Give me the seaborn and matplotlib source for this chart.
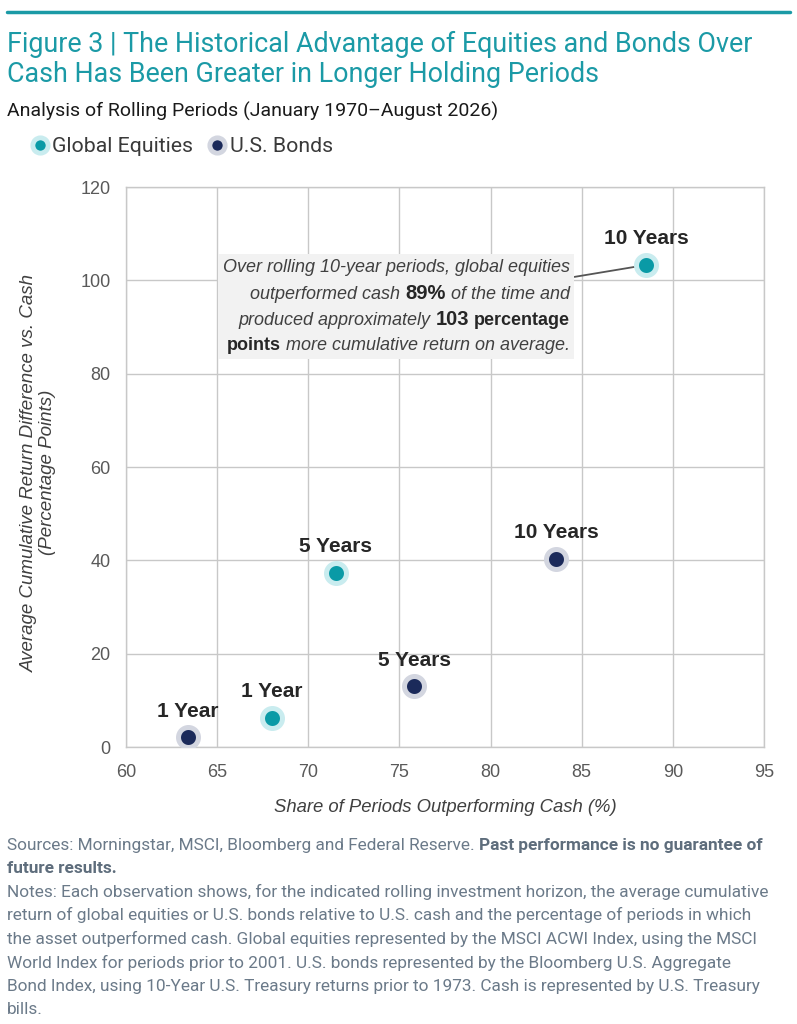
import matplotlib
matplotlib.use("Agg")
import matplotlib.pyplot as plt
import seaborn as sns
import pandas as pd
from matplotlib import font_manager
from matplotlib.lines import Line2D
from matplotlib.offsetbox import TextArea, HPacker, VPacker, AnnotationBbox, AnchoredOffsetbox

# ---- data ----
equity_horizons = ["1 Year", "5 Years", "10 Years"]
equity_share = [68.0, 71.5, 88.55]
equity_return = [6.3, 37.3, 103.3]

bond_horizons = ["1 Year", "5 Years", "10 Years"]
bond_share = [63.4, 75.8, 83.6]
bond_return = [2.1, 13.0, 40.3]

x_ticks = [60, 65, 70, 75, 80, 85, 90, 95]
y_ticks = [0, 20, 40, 60, 80, 100, 120]

eq_df = pd.DataFrame({"share": equity_share, "ret": equity_return, "label": equity_horizons})
bd_df = pd.DataFrame({"share": bond_share, "ret": bond_return, "label": bond_horizons})

TEAL = "#0a9aa6"
TEAL_HALO = "#c9ecef"
NAVY = "#1b2a5a"
NAVY_HALO = "#d3d6e0"
TITLE_C = "#1b9aa6"

names = {f.name for f in font_manager.fontManager.ttflist}
NARROW = "Liberation Sans Narrow" if "Liberation Sans Narrow" in names else "Liberation Sans"

sns.set_theme(style="white")
plt.rcParams["font.family"] = ["Liberation Sans", "DejaVu Sans"]

fig = plt.figure(figsize=(7.97, 10.24), dpi=100)
ax = fig.add_axes([126/797, 1-747/1024, (764-126)/797, (747-187)/1024])

sns.scatterplot(data=bd_df, x="share", y="ret", ax=ax, color=NAVY, s=207,
                edgecolor=NAVY_HALO, linewidth=3.6, legend=False, zorder=4)
sns.scatterplot(data=eq_df, x="share", y="ret", ax=ax, color=TEAL, s=207,
                edgecolor=TEAL_HALO, linewidth=3.6, legend=False, zorder=4)

ax.set_xlim(60, 95)
ax.set_ylim(0, 120)
ax.set_xticks(x_ticks)
ax.set_yticks(y_ticks)
ax.grid(True, color="#c8c8c8", linewidth=1)
ax.set_axisbelow(True)
for sp in ax.spines.values():
    sp.set_color("#c8c8c8")
    sp.set_linewidth(1)
ax.tick_params(axis="both", length=0, labelsize=13, labelcolor="#595959")
ax.tick_params(axis="x", pad=12)
ax.tick_params(axis="y", pad=11)

ax.set_xlabel("Share of Periods Outperforming Cash (%)", fontsize=13.3, fontstyle="italic",
              color="#404040", family=[NARROW, "DejaVu Sans"])
ax.xaxis.set_label_coords(0.5, -0.092)
ax.set_ylabel("Average Cumulative Return Difference vs. Cash\n(Percentage Points)", fontsize=13.5,
              fontstyle="italic", color="#404040", family=[NARROW, "DejaVu Sans"], linespacing=1.05)
ax.yaxis.set_label_coords(-0.11, 0.49)

for df in (eq_df, bd_df):
    for _, r in df.iterrows():
        ax.annotate(r["label"], (r["share"], r["ret"]), xytext=(0, 12), textcoords="offset points",
                    ha="center", va="bottom", fontsize=15, fontweight="bold", color="#262626", zorder=5)

# ---- callout box ----
IT = dict(fontstyle="italic", fontsize=13, color="#404040")
BD = dict(fontweight="bold", fontsize=13, color="#262626")
BDL = dict(fontweight="bold", fontsize=14.5, color="#262626")
sp = 3.6
def line(parts):
    return HPacker(children=[TextArea(t, textprops=p) for t, p in parts], align="baseline", pad=0, sep=sp)

lines = [
    line([("Over rolling 10-year periods, global equities", IT)]),
    line([("outperformed cash", IT), ("89%", BDL), ("of the time and", IT)]),
    line([("produced approximately", IT), ("103", BDL), ("percentage", BD)]),
    line([("points", BD), ("more cumulative return on average.", IT)]),
]
box = VPacker(children=lines, align="right", pad=0, sep=5.5)
ab = AnnotationBbox(box, (equity_share[2], equity_return[2]), xybox=(84.35, 94.4),
                    xycoords="data", boxcoords="data", box_alignment=(1, 0.5), pad=0.6,
                    bboxprops=dict(facecolor="#f2f2f2", edgecolor="none", boxstyle="square"),
                    arrowprops=dict(arrowstyle="-", color="#555555", lw=1.3, shrinkA=0, shrinkB=7),
                    zorder=3)
ax.add_artist(ab)

# ---- header ----
fig.add_artist(Line2D([7/797, 790/797], [1-12/1024, 1-12/1024], color=TITLE_C, lw=2.5))
fig.text(7/797, 1-44/1024, "Figure 3 | The Historical Advantage of Equities and Bonds Over",
         fontsize=19.4, color=TITLE_C, family=["Roboto", "DejaVu Sans"], va="center", ha="left")
fig.text(7/797, 1-75/1024, "Cash Has Been Greater in Longer Holding Periods",
         fontsize=19.4, color=TITLE_C, family=["Roboto", "DejaVu Sans"], va="center", ha="left")
fig.text(7/797, 1-111/1024, "Analysis of Rolling Periods (January 1970\u2013August 2026)",
         fontsize=14, color="#1a1a1a", family=["Roboto", "DejaVu Sans"], va="center", ha="left")

handles = [Line2D([], [], marker="o", ls="none", markersize=11, markerfacecolor=TEAL,
                  markeredgecolor=TEAL_HALO, markeredgewidth=3.5),
           Line2D([], [], marker="o", ls="none", markersize=11, markerfacecolor=NAVY,
                  markeredgecolor=NAVY_HALO, markeredgewidth=3.5)]
leg = fig.legend(handles, ["Global Equities", "U.S. Bonds"], loc="center left",
                 bbox_to_anchor=(27/797, 1-147/1024), ncol=2, frameon=False,
                 handletextpad=0.0, columnspacing=0.5, handlelength=1.2,
                 prop={"family": ["Roboto", "DejaVu Sans"], "size": 15.3}, borderpad=0, borderaxespad=0)
for t in leg.get_texts():
    t.set_color("#3a3a3a")

# ---- footer ----
FC = "#6b7a89"
FR = dict(fontsize=12.4, color=FC, family=["Roboto", "DejaVu Sans"])
FB = dict(fontsize=12.4, color="#5e6d7c", family=["Roboto", "DejaVu Sans"], fontweight="bold")
def fline(parts):
    return HPacker(children=[TextArea(t, textprops=p) for t, p in parts], align="baseline", pad=0, sep=3.3)
foot = [
    fline([("Sources: Morningstar, MSCI, Bloomberg and Federal Reserve.", FR),
           ("Past performance is no guarantee of", FB)]),
    fline([("future results.", FB)]),
    fline([("Notes: Each observation shows, for the indicated rolling investment horizon, the average cumulative", FR)]),
    fline([("return of global equities or U.S. bonds relative to U.S. cash and the percentage of periods in which", FR)]),
    fline([("the asset outperformed cash. Global equities represented by the MSCI ACWI Index, using the MSCI", FR)]),
    fline([("World Index for periods prior to 2001. U.S. bonds represented by the Bloomberg U.S. Aggregate", FR)]),
    fline([("Bond Index, using 10-Year U.S. Treasury returns prior to 1973. Cash is represented by U.S. Treasury", FR)]),
    fline([("bills.", FR)]),
]
fbox = VPacker(children=foot, align="left", pad=0, sep=5.6)
aob = AnchoredOffsetbox(loc="upper left", child=fbox, bbox_to_anchor=(7/797, 1-838/1024),
                        bbox_transform=fig.transFigure, frameon=False, pad=0, borderpad=0)
fig.add_artist(aob)

fig.savefig("out.png", dpi=100)
